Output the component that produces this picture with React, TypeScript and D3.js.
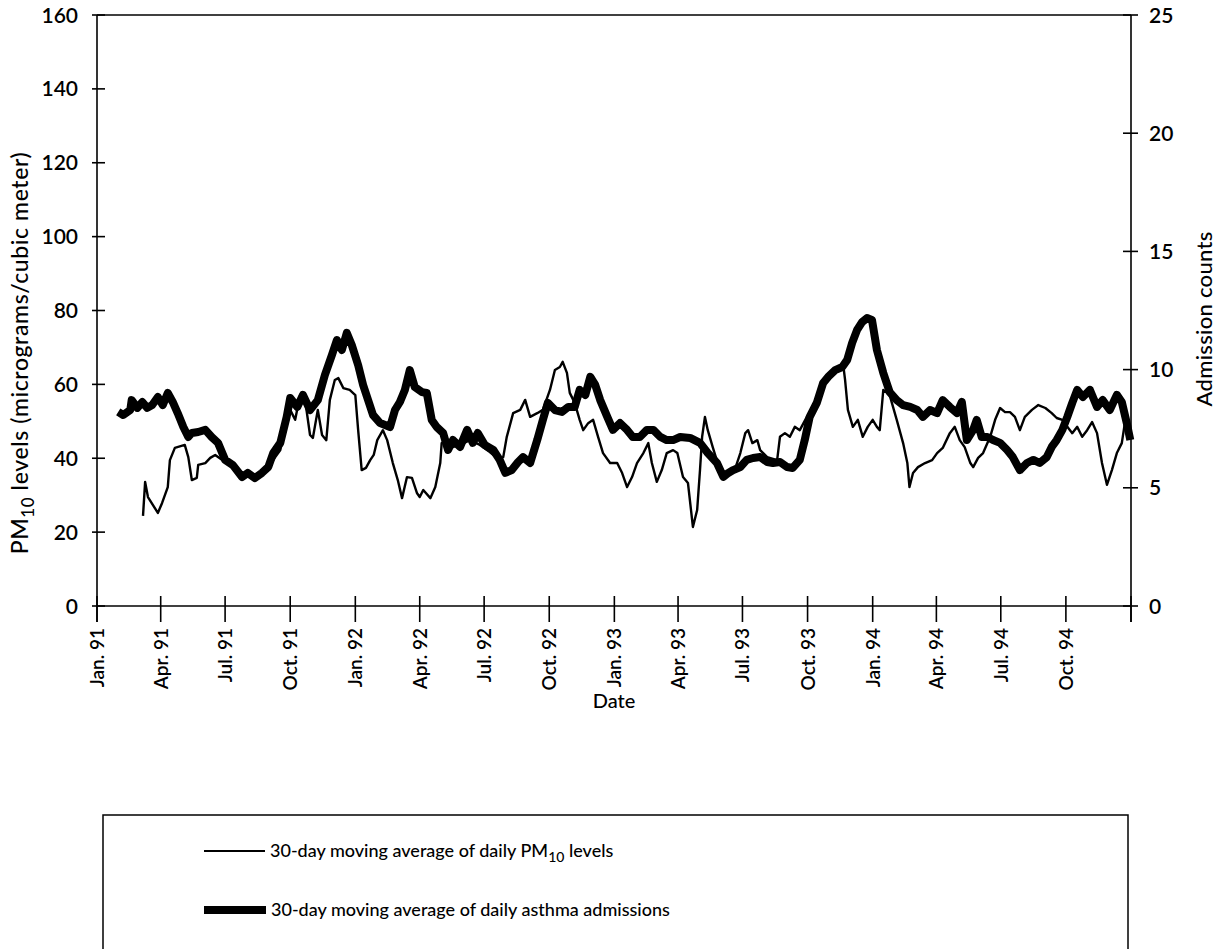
import React from "react";
import * as d3 from "d3";

// Days since 1 Jan 1991, 30-day moving average of daily PM10 (µg/m³)
const pmData: [number, number][] = [
  [65, 24.4], [68, 33.6], [72, 29.5], [86, 25.2], [92, 27.9], [100, 32.2], [103, 39.5], [110, 42.8],
  [124, 43.6], [129, 40.3], [134, 34.1], [141, 34.7], [143, 38.2], [153, 38.7], [160, 40.1], [167, 40.9],
  [181, 39.0], [192, 37.6], [205, 35.5], [223, 34.7], [233, 36.3], [244, 38.2], [259, 42.2], [268, 50.4],
  [273, 53.1], [280, 50.4], [287, 57.1], [294, 55.8], [301, 46.3], [305, 45.5], [312, 53.1], [318, 46.3],
  [324, 44.9], [329, 55.8], [336, 61.2], [341, 61.7], [348, 59.0], [357, 58.5], [365, 57.1], [369, 47.6],
  [374, 36.8], [380, 37.4], [386, 39.5], [391, 40.9], [396, 44.9], [404, 47.6], [410, 44.9], [418, 38.7],
  [425, 34.1], [431, 29.2], [438, 34.9], [445, 34.7], [452, 30.6], [456, 29.5], [461, 31.4], [471, 29.2],
  [478, 32.2], [485, 38.7], [487, 44.1], [492, 44.9], [499, 42.8], [513, 43.6], [527, 44.9], [541, 43.6],
  [555, 41.7], [565, 40.1], [574, 40.3], [579, 45.8], [588, 52.2], [598, 53.1], [605, 55.8], [612, 51.2],
  [622, 52.2], [630, 53.1], [640, 58.5], [647, 63.9], [654, 64.7], [658, 66.1], [664, 63.1], [668, 57.7],
  [675, 55.0], [682, 50.4], [687, 47.6], [694, 49.5], [701, 50.4], [708, 45.8], [715, 41.4], [725, 38.7],
  [735, 38.7], [742, 36.0], [749, 32.2], [756, 34.9], [763, 38.7], [772, 41.4], [779, 44.1], [784, 38.7],
  [791, 33.6], [798, 36.8], [805, 41.4], [814, 42.2], [820, 41.4], [828, 34.9], [835, 33.3], [842, 21.4],
  [848, 26.0], [852, 36.8], [855, 45.8], [859, 51.2], [863, 47.6], [870, 43.0], [877, 38.7], [887, 36.0],
  [901, 36.8], [909, 41.4], [916, 46.8], [920, 47.6], [926, 44.1], [933, 44.9], [937, 42.2], [947, 40.3],
  [961, 39.5], [965, 45.8], [972, 46.8], [979, 45.8], [986, 48.5], [993, 47.6], [1003, 51.2], [1017, 54.4],
  [1026, 59.8], [1036, 62.5], [1046, 63.9], [1054, 65.8], [1057, 61.2], [1061, 53.1], [1068, 48.5], [1075, 50.4],
  [1082, 45.8], [1089, 48.5], [1096, 50.4], [1102, 48.5], [1106, 47.6], [1111, 58.5], [1120, 57.1], [1130, 50.4],
  [1139, 44.1], [1145, 38.7], [1148, 32.2], [1153, 36.0], [1160, 37.6], [1170, 38.7], [1180, 39.5], [1187, 41.4],
  [1195, 42.8], [1205, 46.8], [1212, 48.5], [1219, 44.9], [1226, 43.0], [1234, 38.7], [1238, 37.6], [1245, 40.1],
  [1252, 41.4], [1262, 45.8], [1269, 50.4], [1276, 53.6], [1283, 52.5], [1290, 52.5], [1297, 51.2], [1304, 47.6],
  [1311, 51.2], [1321, 53.1], [1330, 54.4], [1340, 53.6], [1349, 52.2], [1356, 50.9], [1364, 50.4], [1371, 48.5],
  [1378, 46.8], [1385, 48.5], [1392, 45.8], [1399, 47.6], [1406, 49.8], [1413, 46.8], [1420, 38.7], [1427, 32.8],
  [1434, 36.8], [1441, 41.4], [1448, 44.1], [1453, 50.4], [1457, 47.6],
];

// Days since 1 Jan 1991, 30-day moving average of daily asthma admissions
const asthmaData: [number, number][] = [
  [30, 8.21], [37, 8.08], [47, 8.29], [49, 8.71], [57, 8.38], [64, 8.63], [71, 8.38], [78, 8.5],
  [86, 8.84], [93, 8.5], [100, 9.01], [107, 8.63], [114, 8.16], [122, 7.57], [129, 7.15], [134, 7.32],
  [143, 7.36], [153, 7.45], [162, 7.15], [171, 6.9], [181, 6.18], [192, 5.96], [205, 5.46], [213, 5.63],
  [223, 5.41], [233, 5.63], [242, 5.88], [249, 6.47], [259, 6.9], [268, 8.0], [273, 8.8], [283, 8.42],
  [291, 8.93], [301, 8.29], [312, 8.71], [322, 9.77], [332, 10.62], [339, 11.25], [346, 10.83], [353, 11.55],
  [360, 11.04], [369, 10.19], [376, 9.35], [383, 8.71], [390, 8.08], [400, 7.74], [414, 7.57], [421, 8.29],
  [428, 8.63], [435, 9.14], [442, 9.98], [449, 9.26], [459, 9.05], [466, 9.01], [473, 7.87], [480, 7.57],
  [489, 7.32], [496, 6.6], [503, 7.02], [513, 6.73], [523, 7.45], [531, 6.9], [538, 7.32], [548, 6.81],
  [560, 6.6], [569, 6.18], [577, 5.63], [586, 5.75], [595, 6.09], [602, 6.3], [612, 6.05], [622, 7.02],
  [630, 7.87], [637, 8.59], [647, 8.29], [657, 8.21], [666, 8.42], [675, 8.42], [682, 9.14], [690, 8.93],
  [697, 9.69], [704, 9.35], [711, 8.71], [721, 8.0], [729, 7.45], [739, 7.74], [749, 7.45], [757, 7.15],
  [767, 7.15], [777, 7.45], [786, 7.45], [796, 7.15], [805, 7.02], [814, 7.02], [824, 7.15], [838, 7.11],
  [852, 6.9], [863, 6.47], [876, 6.05], [885, 5.46], [892, 5.63], [899, 5.75], [909, 5.88], [918, 6.18],
  [927, 6.26], [937, 6.3], [947, 6.09], [955, 6.05], [965, 6.09], [975, 5.88], [983, 5.84], [993, 6.18],
  [1000, 7.02], [1007, 8.0], [1017, 8.59], [1026, 9.43], [1033, 9.69], [1043, 9.98], [1053, 10.11], [1060, 10.41],
  [1067, 11.13], [1074, 11.68], [1081, 12.01], [1088, 12.18], [1095, 12.1], [1102, 10.83], [1111, 9.86], [1120, 9.05],
  [1130, 8.71], [1139, 8.5], [1149, 8.42], [1159, 8.29], [1167, 8.0], [1177, 8.29], [1187, 8.16], [1195, 8.71],
  [1205, 8.42], [1215, 8.16], [1222, 8.63], [1229, 7.02], [1238, 7.45], [1243, 7.87], [1250, 7.15], [1258, 7.15],
  [1266, 7.02], [1276, 6.9], [1286, 6.6], [1294, 6.3], [1304, 5.75], [1314, 6.05], [1323, 6.18], [1332, 6.05],
  [1342, 6.3], [1349, 6.73], [1356, 7.02], [1364, 7.45], [1371, 8.0], [1378, 8.59], [1385, 9.14], [1393, 8.84],
  [1403, 9.14], [1413, 8.42], [1421, 8.71], [1431, 8.29], [1441, 8.93], [1448, 8.63], [1455, 7.74], [1460, 7.02],
];

const xTickLabels = [
  "Jan. 91", "Apr. 91", "Jul. 91", "Oct. 91",
  "Jan. 92", "Apr. 92", "Jul. 92", "Oct. 92",
  "Jan. 93", "Apr. 93", "Jul. 93", "Oct. 93",
  "Jan. 94", "Apr. 94", "Jul. 94", "Oct. 94", "",
];
const leftTicks = [0, 20, 40, 60, 80, 100, 120, 140, 160];
const rightTicks = [0, 5, 10, 15, 20, 25];

const FONT = "Lato, 'Open Sans', sans-serif";
const W = 1221;
const H = 949;

export default function App() {
  const start = new Date(1991, 0, 1);
  const end = new Date(1995, 0, 1);
  const x = d3.scaleTime().domain([start, end]).range([97, 1131]);
  const yL = d3.scaleLinear().domain([0, 160]).range([606, 15]);
  const yR = d3.scaleLinear().domain([0, 25]).range([606, 15]);
  const dayToDate = (d: number) => d3.timeDay.offset(start, d);

  const pmLine = d3
    .line<[number, number]>()
    .x((d) => x(dayToDate(d[0])))
    .y((d) => yL(d[1]));
  const asLine = d3
    .line<[number, number]>()
    .x((d) => x(dayToDate(d[0])))
    .y((d) => yR(d[1]));

  const xTicks = d3.timeMonth.every(3)!.range(start, d3.timeDay.offset(end, 1));
  const [x0, x1] = x.range();
  const yBottom = yL(0);
  const yTop = yL(160);

  return (
    <svg
      width={W}
      height={H}
      style={{ position: "absolute", left: 0, top: 0, background: "#fff" }}
      fontFamily={FONT}
    >
      <rect x={0} y={0} width={W} height={H} fill="#fff" />
      {/* frame */}
      <g stroke="#000" strokeWidth={1.6} fill="none">
        <line x1={x0} x2={x1} y1={yTop} y2={yTop} />
        <line x1={x0} x2={x1} y1={yBottom} y2={yBottom} />
        <line x1={x0} x2={x0} y1={yTop} y2={yBottom + 16} />
        <line x1={x1} x2={x1} y1={yTop} y2={yBottom + 16} />
      </g>
      {/* left ticks */}
      {leftTicks.map((t) => (
        <g key={"l" + t}>
          <line x1={x0 - 5} x2={x0 + 8} y1={yL(t)} y2={yL(t)} stroke="#000" strokeWidth={1.6} />
          <text x={78} y={yL(t)} dy="0.36em" textAnchor="end" fontSize={21} fontWeight={600}>
            {t}
          </text>
        </g>
      ))}
      {/* right ticks */}
      {rightTicks.map((t) => (
        <g key={"r" + t}>
          <line x1={x1 - 8} x2={x1 + 7} y1={yR(t)} y2={yR(t)} stroke="#000" strokeWidth={1.6} />
          <text x={1149} y={yR(t)} dy="0.36em" textAnchor="start" fontSize={21} fontWeight={600}>
            {t}
          </text>
        </g>
      ))}
      {/* x ticks */}
      {xTicks.map((d, i) => (
        <g key={"x" + i}>
          <line x1={x(d)} x2={x(d)} y1={yBottom - 10} y2={yBottom + 16} stroke="#000" strokeWidth={1.6} />
          <text
            transform={`translate(${x(d) + 7},${628}) rotate(-90)`}
            textAnchor="end"
            fontSize={19}
            fontWeight={600}
          >
            {xTickLabels[i]}
          </text>
        </g>
      ))}
      {/* series */}
      <path d={asLine(asthmaData) ?? ""} fill="none" stroke="#000" strokeWidth={8} strokeLinejoin="round" />
      <path d={pmLine(pmData) ?? ""} fill="none" stroke="#000" strokeWidth={2.4} strokeLinejoin="round" />
      {/* axis titles */}
      <text
        transform={`translate(28,353) rotate(-90)`}
        textAnchor="middle"
        fontSize={23}
        letterSpacing={0.6}
        fontWeight={500}
      >
        PM
        <tspan fontSize={17} dy={6}>10</tspan>
        <tspan dy={-6}> levels (micrograms/cubic meter)</tspan>
      </text>
      <text
        transform={`translate(1212,319) rotate(-90)`}
        textAnchor="middle"
        fontSize={22}
        letterSpacing={0.3}
        fontWeight={500}
      >
        Admission counts
      </text>
      <text x={614} y={708} textAnchor="middle" fontSize={20} fontWeight={500}>
        Date
      </text>
      {/* legend */}
      <rect x={103} y={815} width={1025} height={200} fill="none" stroke="#000" strokeWidth={1.5} />
      <line x1={204} x2={265} y1={851} y2={851} stroke="#000" strokeWidth={2.2} />
      <text x={270} y={857} fontSize={18} fontWeight={500}>
        30-day moving average of daily PM
        <tspan fontSize={14} dy={5}>10</tspan>
        <tspan dy={-5}> levels</tspan>
      </text>
      <rect x={204} y={906} width={62} height={8} fill="#000" />
      <text x={271} y={916} fontSize={18} fontWeight={500}>
        30-day moving average of daily asthma admissions
      </text>
    </svg>
  );
}
